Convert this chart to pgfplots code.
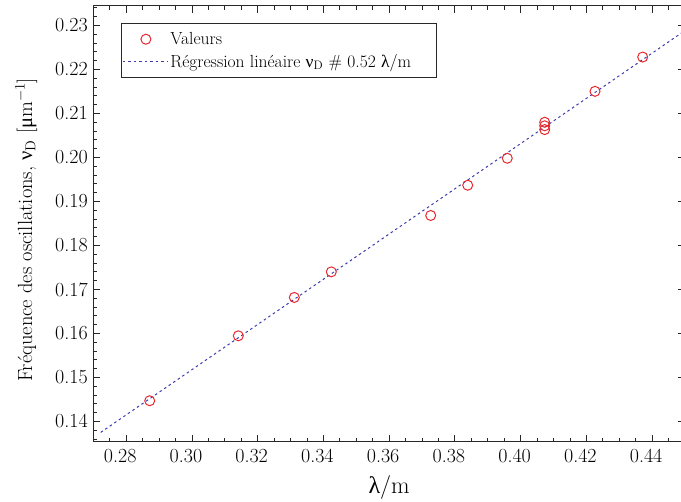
\documentclass[border=0pt]{standalone}
\usepackage{pgfplots}
\pgfplotsset{compat=1.18}
\usepackage{fontspec}
\newfontfamily\grk{Liberation Serif}
\definecolor{mred}{RGB}{232,40,48}
\definecolor{mblue}{RGB}{60,60,175}
\definecolor{axc}{RGB}{40,40,40}
\pgfplotsset{
  markleg/.style={legend image code/.code={\path[draw=none,fill=none] (0pt,-1pt) rectangle (45pt,1pt); \draw[##1,only marks] plot coordinates {(23pt,0pt)};}},
  lineleg/.style={legend image code/.code={\draw[##1] (0pt,0pt) -- (45pt,0pt);}},
}
\begin{document}
\begin{tikzpicture}
\begin{axis}[
  at={(0pt,0pt)}, anchor=south west,
  scale only axis, width=591.7pt, height=435.7pt,
  xmin=0.27, xmax=0.45, ymin=0.1354, ymax=0.2344,
  xtick={0.28,0.30,0.32,0.34,0.36,0.38,0.40,0.42,0.44},
  xticklabels={0.28,0.30,0.32,0.34,0.36,0.38,0.40,0.42,0.44},
  ytick={0.14,0.15,0.16,0.17,0.18,0.19,0.20,0.21,0.22,0.23},
  yticklabels={0.14,0.15,0.16,0.17,0.18,0.19,0.20,0.21,0.22,0.23},
  minor xtick={0.270,0.275,...,0.4501},
  minor ytick={0.136,0.138,...,0.2345},
  tick align=inside,
  major tick length=7pt, minor tick length=4pt,
  every tick/.style={axc, line width=0.8pt},
  axis line style={axc, line width=1pt},
  xticklabel style={font=\fontsize{20}{24}\selectfont, xshift=-6pt, yshift=-4pt},
  yticklabel style={font=\fontsize{20}{24}\selectfont, xshift=-2pt},
  every axis x label/.style={at={(axis description cs:0.5,-0.1193)}, anchor=base, font=\fontsize{24}{28}\selectfont},
  every axis y label/.style={at={(axis description cs:-0.1132,0.486)}, rotate=90, anchor=center, font=\fontsize{20.5}{24}\selectfont},
  xlabel={{\grk λ}/m},
  ylabel={Fréquence des oscillations, {\grk ν}$_{\mathrm{D}}$ [{\grk μ}m$^{-1}$]},
  legend cell align=left,
  legend style={at={(axis description cs:0.0468,0.961)}, anchor=north west,
    draw=axc, line width=0.8pt, font=\fontsize{17.5}{20}\selectfont,
    inner xsep=1pt, inner ysep=7pt, row sep=4pt},
]
\addplot[only marks, mark=o, mark size=5pt, mred, line width=1pt, markleg]
coordinates {
(0.28716,0.14471) (0.31411,0.15946) (0.33115,0.16818) (0.34240,0.17399)
(0.37264,0.18680) (0.38390,0.19367) (0.39594,0.19980) (0.40732,0.20798)
(0.40732,0.20718) (0.40732,0.20632) (0.42262,0.21501) (0.43713,0.22280)
};
\addlegendentry{Valeurs}
\addplot[mblue, line width=1pt, dash pattern=on 2.5pt off 3pt, lineleg]
coordinates {(0.27225,0.13751) (0.45,0.22882)};
\addlegendentry{Régression linéaire {\grk ν}$_{\mathrm{D}}$ \# 0.52 {\grk λ}/m\kern 22pt}
\end{axis}
\pgfresetboundingbox
\useasboundingbox (-93.3pt,-60.3pt) rectangle (587.7pt,441.7pt);
\end{tikzpicture}
\end{document}
